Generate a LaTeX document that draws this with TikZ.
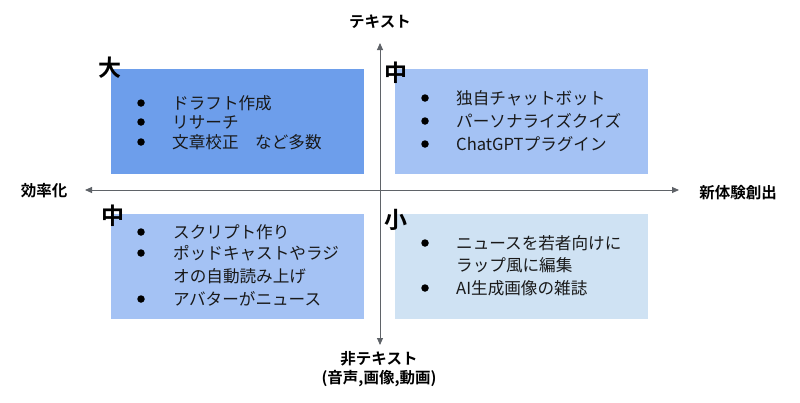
\documentclass[tikz,border=0pt]{standalone}
\usepackage{fontspec}
\setmainfont{Noto Sans CJK JP}[BoldFont={Noto Sans CJK JP Bold}]
\usetikzlibrary{arrows.meta}
\definecolor{bigc}{HTML}{6D9EEB}
\definecolor{midc}{HTML}{A4C2F4}
\definecolor{smallc}{HTML}{CFE2F3}
\definecolor{axisc}{HTML}{5F6368}
\tikzset{
  quad/.style={minimum width=253pt, minimum height=105pt, inner sep=0pt, draw=none, anchor=north west},
  item/.style={anchor=west, inner sep=0pt, font=\fontsize{16.6}{18}\selectfont, text=black!90},
  dot/.style={circle, fill=black, inner sep=0pt, minimum size=7.5pt},
  rank/.style={inner sep=0pt, font=\bfseries\fontsize{23}{25}\selectfont},
  axlabel/.style={inner sep=0pt, font=\bfseries\fontsize{15.5}{19}\selectfont, align=center},
  axis/.style={draw=axisc, line width=0.9pt, -{Triangle[length=7pt,width=6pt]}}
}
\begin{document}
\begin{tikzpicture}[x=1pt,y=-1pt]
\useasboundingbox (0,0) rectangle (800,402);
% boxes
\node[quad, fill=bigc] (q1) at (111,69) {};
\node[quad, fill=midc] (q2) at (395,69) {};
\node[quad, fill=midc] (q3) at (111,214) {};
\node[quad, fill=smallc] (q4) at (395,214) {};
% axes
\coordinate (c) at (380,190);
\coordinate (top) at (380,43);
\coordinate (bot) at (380,345);
\coordinate (lft) at (85,190);
\coordinate (rgt) at (679,190);
\draw[axis] (c) -- (top);
\draw[axis] (c) -- (bot);
\draw[axis] (c) -- (lft);
\draw[axis] (c) -- (rgt);
% axis labels
\node[axlabel] (lt) at (380,22) {テキスト};
\node[axlabel] (lb) at (379,369) {非テキスト\\(音声,画像,動画)};
\node[axlabel] (ll) at (44,191) {効率化};
\node[axlabel] (lr) at (738,193) {新体験創出};
% rank labels
\node[rank] (r1) at (110,68) {大};
\node[rank] (r2) at (396,73) {中};
\node[rank] (r3) at (113,216) {中};
\node[rank] (r4) at (396,220) {小};
% box 1
\node[dot] (b11) at (141,103) {};
\node[dot] (b12) at (141,122) {};
\node[dot] (b13) at (141,142) {};
\node[item] (t11) at (172,103) {ドラフト作成};
\node[item] (t12) at (172,122) {リサーチ};
\node[item] (t13) at (172,142) {文章校正　など多数};
% box 2
\node[dot] (b21) at (425,98) {};
\node[dot] (b22) at (425,121) {};
\node[dot] (b23) at (425,144) {};
\node[item] (t21) at (456,98) {独自チャットボット};
\node[item] (t22) at (456,121) {パーソナライズクイズ};
\node[item] (t23) at (456,144) {ChatGPTプラグイン};
% box 3
\node[dot] (b31) at (141,232) {};
\node[dot] (b32) at (141,253) {};
\node[dot] (b33) at (141,299) {};
\node[item] (t31) at (173,232) {スクリプト作り};
\node[item] (t32) at (173,253) {ポッドキャストやラジ};
\node[item] (t32b) at (173,276) {オの自動読み上げ};
\node[item] (t33) at (173,299) {アバターがニュース};
% box 4
\node[dot] (b41) at (425,243) {};
\node[dot] (b42) at (425,288) {};
\node[item] (t41) at (456,243) {ニュースを若者向けに};
\node[item] (t41b) at (456,265) {ラップ風に編集};
\node[item] (t42) at (456,288) {AI生成画像の雑誌};
\end{tikzpicture}
\end{document}
